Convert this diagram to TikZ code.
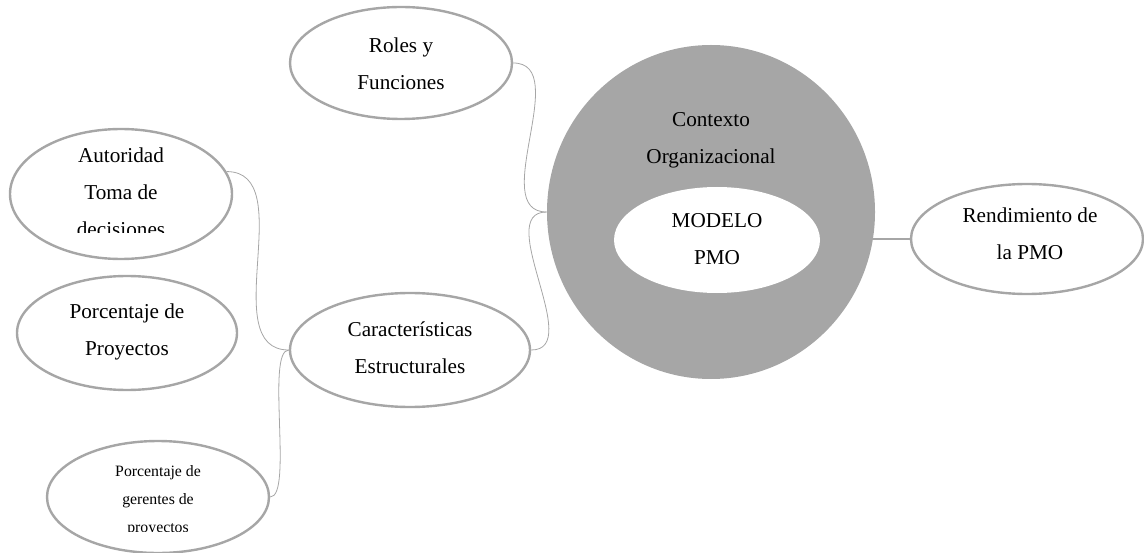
\documentclass[tikz,border=0pt]{standalone}
\usepackage{fontspec}
\setmainfont{Liberation Serif}
\usetikzlibrary{shapes.geometric}
\definecolor{bordergray}{HTML}{A6A6A6}

\begin{document}
\begin{tikzpicture}[x=0.5pt,y=0.5pt,
  bubble/.style={draw=bordergray, line width=1.2pt, ellipse, fill=white, inner sep=0pt},
  lbl/.style={align=center, inner sep=0pt, font=\fontsize{10.6}{18.5}\selectfont},
  small/.style={align=center, inner sep=0pt, font=\fontsize{7.9}{14}\selectfont},
  link/.style={draw=bordergray, line width=0.4pt}]
  \useasboundingbox (0,0) rectangle (1144,552);

  %centre
  \node[ellipse, fill=bordergray, minimum width=164pt, minimum height=167pt] (contexto) at (711,340) {};
  \node[lbl] (contextoT) at (711,412) {Contexto\\Organizacional};
  \node[ellipse, fill=white, minimum width=103pt, minimum height=53pt] (modelo) at (717,312) {};
  \node[lbl] (modeloT) at (717,313) {MODELO\\PMO};

  %right
  \node[bubble, minimum width=116pt, minimum height=55pt] (rend) at (1027,313) {};
  \node[lbl] (rendT) at (1030,318) {Rendimiento de\\la PMO};

  %top
  \node[bubble, minimum width=111pt, minimum height=56pt] (roles) at (401,489) {};
  \node[lbl] (rolesT) at (401,488) {Roles y\\Funciones};

  %middle
  \node[bubble, minimum width=120pt, minimum height=57pt] (carac) at (410,202) {};
  \node[lbl] (caracT) at (410,204) {Características\\Estructurales};

  %left
  \node[bubble, minimum width=111pt, minimum height=65pt] (auto) at (121,358) {};
  \begin{scope}
    \clip (0,319) rectangle (300,552);
    \node[lbl] (autoT) at (121,360) {Autoridad\\Toma de\\decisiones};
  \end{scope}

  \node[bubble, minimum width=110pt, minimum height=57pt] (proy) at (127,219) {};
  \node[lbl] (proyT) at (127,220) {Porcentaje de\\Proyectos};

  \node[bubble, minimum width=111pt, minimum height=56pt] (ger) at (158,55) {};
  \begin{scope}
    \clip (0,21) rectangle (300,200);
    \node[small] (gerT) at (158,51) {Porcentaje de\\gerentes de\\proyectos};
  \end{scope}

  %links
  \draw[link] (roles.east) to[out=0,in=180] (contexto.west);
  \draw[link] (carac.east) to[out=0,in=180] (contexto.west);
  \draw[link] (auto.12) to[out=0,in=180] (carac.west);
  \draw[link] (ger.east) to[out=0,in=180,looseness=0.4] (carac.west);
  \draw[draw=bordergray, line width=1pt] (rend.west) -- ++(-42,0);
\end{tikzpicture}
\end{document}
